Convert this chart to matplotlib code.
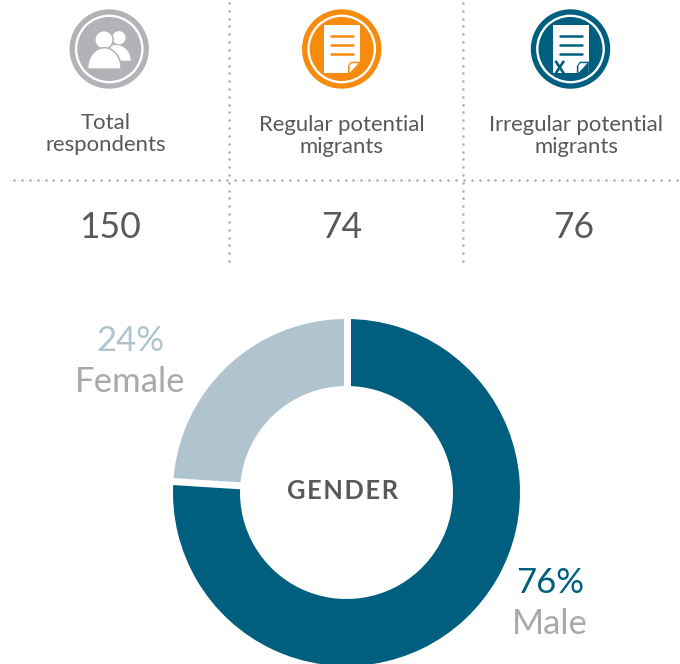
import numpy as np
import matplotlib
matplotlib.use("Agg")
import matplotlib.pyplot as plt
from matplotlib.patches import Circle, Rectangle, Polygon

plt.rcParams['font.family'] = ['Lato', 'DejaVu Sans']

# ---------- data ----------
gender_labels = ["Male", "Female"]
gender_values = [76, 24]
gender_pct_labels = ["76%", "24%"]
column_titles = ["Total\nrespondents", "Regular potential\nmigrants", "Irregular potential\nmigrants"]
column_counts = [150, 74, 76]

TEAL = "#005f7f"
ORANGE = "#f68b0e"
GREY = "#b1b3b6"
LIGHT = "#b0c4d0"
TEXT = "#58595b"
LABEL = "#a7a9ac"

W, H = 680, 664
fig = plt.figure(figsize=(W / 100, H / 100), dpi=100, facecolor="white")
bg = fig.add_axes([0, 0, 1, 1])
bg.set_xlim(0, W); bg.set_ylim(H, 0); bg.axis("off")

# ---------- dotted separators ----------
def dots(x0, y0, x1, y1, step=7.85):
    n = int(round(max(abs(x1 - x0), abs(y1 - y0)) / step))
    bg.scatter(np.linspace(x0, x1, n + 1), np.linspace(y0, y1, n + 1), s=3.4, color="#a9abae", linewidths=0, zorder=1)

dots(14, 179.5, 677, 179.5)
dots(228.5, 3, 228.5, 261)
dots(462.5, 3, 462.5, 261)

# ---------- icons ----------
def badge(cx, color, cy=49):
    bg.add_patch(Circle((cx, cy), 39.7, fc=color, ec="none", zorder=2))
    bg.add_patch(Circle((cx, cy), 33.2, fc="none", ec="white", lw=1.7, zorder=3))

def dome(cx, base_y, a, b, color, z):
    t = np.linspace(np.pi, 2 * np.pi, 60)
    pts = np.column_stack([cx + a * np.cos(t), base_y + b * np.sin(t)])
    bg.add_patch(Polygon(pts, closed=True, fc=color, ec="none", zorder=z))

def document(cx, color, cross=False):
    dx = cx - 341.7
    bg.add_patch(Rectangle((324.3 + dx, 25), 35.4, 48.3, fc="white", ec="none", zorder=4))
    for y in (36, 45, 54):
        bg.plot([331.2 + dx, 353.3 + dx], [y, y], color=color, lw=1.8, solid_capstyle="round", zorder=5)
    bg.add_patch(Polygon([(348 + dx, 73.6), (348 + dx, 66), (351 + dx, 61.7), (360 + dx, 61.7), (360 + dx, 73.6)],
                         fc=color, ec="none", zorder=5))
    bg.add_patch(Polygon([(349.6 + dx, 73), (349.6 + dx, 65.5), (351.6 + dx, 63.2), (358.6 + dx, 63.2)],
                         fc="white", ec="none", zorder=6))
    if cross:
        bg.plot([556.2, 563.2], [62, 72.6], color=color, lw=1.9, zorder=6)
        bg.plot([563.2, 556.2], [62, 72.6], color=color, lw=1.9, zorder=6)

badge(109.2, GREY)
dome(116, 60.7, 14.7, 15.7, "white", 4)
bg.add_patch(Circle((119, 37.7), 6.6, fc="white", ec="none", zorder=4))
bg.add_patch(Circle((104, 39.8), 9.2, fc="white", ec=GREY, lw=1.1, zorder=5))
dome(104.3, 68.3, 17.6, 21.4, GREY, 5)
dome(104.3, 68.3, 16, 19.8, "white", 6)

badge(341.7, ORANGE)
document(341.7, ORANGE)
badge(570.5, TEAL)
document(570.5, TEAL, cross=True)

# ---------- header text ----------
title_xy = [(106, 134), (341.5, 136), (576, 136)]
count_xy = [(110, 228), (341.5, 228), (574, 228)]
for (x, y), t in zip(title_xy, column_titles):
    bg.text(x, y, t, ha="center", va="center", fontsize=15.9, color=TEXT, linespacing=1.13, zorder=8)
for (x, y), c in zip(count_xy, column_counts):
    bg.text(x, y, str(c), ha="center", va="center", fontsize=25.6, color=TEXT, zorder=8)

# ---------- donut ----------
CX, CY, R, r = 346.5, 492.5, 173.5, 106.5
pad = 1.02
pie_ax = fig.add_axes([(CX - R * pad) / W, 1 - (CY + R * pad) / H, 2 * R * pad / W, 2 * R * pad / H])
wedges, _ = pie_ax.pie(gender_values, colors=[TEAL, LIGHT], startangle=90, counterclock=False,
                       radius=1, wedgeprops=dict(width=1 - r / R, linewidth=0))
pie_ax.set_xlim(-pad, pad); pie_ax.set_ylim(-pad, pad)
pie_ax.patch.set_alpha(0)
for w in wedges:
    a = np.deg2rad(w.theta1)
    pie_ax.plot([0.55 * np.cos(a), 1.02 * np.cos(a)], [0.55 * np.sin(a), 1.02 * np.sin(a)],
                color="white", lw=5, solid_capstyle="butt")

bg.set_zorder(3)
bg.patch.set_alpha(0)
bg.text(343, 491, "G\u200aE\u200aN\u200aD\u200aE\u200aR", ha="center", va="center", fontsize=18.4, fontweight="bold", color=TEXT)
bg.text(130, 341, gender_pct_labels[1], ha="center", va="center", fontsize=25, color=LIGHT)
bg.text(130, 382, gender_labels[1], ha="center", va="center", fontsize=25, color=LABEL)
bg.text(550, 583, gender_pct_labels[0], ha="center", va="center", fontsize=25, color=TEAL)
bg.text(550, 624, gender_labels[0], ha="center", va="center", fontsize=25, color=LABEL)

fig.savefig("out.png", dpi=100)
